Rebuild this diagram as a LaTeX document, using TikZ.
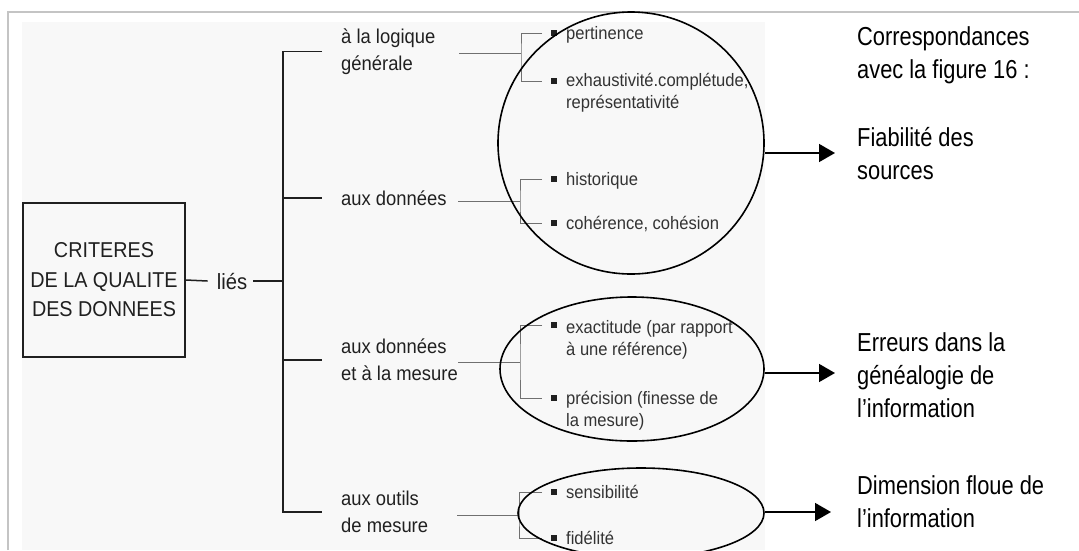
\documentclass[tikz,border=0pt]{standalone}
\usepackage{fontspec}
\setmainfont{Liberation Sans}
\newfontfamily\scanfont[FakeStretch=0.92]{Liberation Sans}
\newfontfamily\notefont[FakeStretch=0.84]{Liberation Sans}
\usepackage{tikz}
\usetikzlibrary{arrows.meta,positioning,shapes.geometric}
\definecolor{scanink}{HTML}{202020}
\definecolor{fadeink}{HTML}{333333}
\definecolor{frameline}{HTML}{C4C4C4}
\definecolor{scanbg}{HTML}{F8F8F8}

\begin{document}
\begin{tikzpicture}[x=1pt,y=-1pt,
  lab/.style={anchor=west,inner sep=0pt,align=left,text=scanink,font=\scanfont\fontsize{20}{27}\selectfont},
  item/.style={anchor=base west,inner sep=0pt,align=left,text=fadeink,font=\scanfont\fontsize{18}{22}\selectfont},
  note/.style={anchor=west,inner sep=0pt,align=left,font=\notefont\fontsize{26}{33}\selectfont},
  dot/.style={fill=scanink,rectangle,minimum size=5.5pt,inner sep=0pt},
  ring/.style={draw,ellipse,inner sep=0pt,line width=1.6pt},
  arr/.style={line width=1.6pt,-{Triangle[length=16pt,width=18pt]}},
  subln/.style={fadeink!70,line width=0.8pt},
  brk/.style={scanink,line width=1.8pt}]
  \useasboundingbox (0,0) rectangle (1079,550);
  \fill[scanbg] (22,22) rectangle (765,550);
  \draw[frameline,line width=2pt] (8,550) -- (8,12) -- (1079,12);

  \node[draw=scanink,line width=1.5pt,minimum width=162pt,minimum height=154pt,align=center,
    text=scanink,font=\scanfont\fontsize{21.5}{29.5}\selectfont] (crit) at (104,280)
    {CRITERES\\DE LA QUALITE\\DES DONNEES};
  \node[inner sep=0pt,text=scanink,font=\scanfont\fontsize{22}{26}\selectfont] (lies) at (232,281) {liés};
  \coordinate (spine) at (283,281);

  \node[lab] (lab1) at (341,51.5) {à la logique\\générale};
  \node[lab] (lab2) at (341,198) {aux données};
  \node[lab] (lab3) at (341,360) {aux données\\et à la mesure};
  \node[lab] (lab4) at (341,512) {aux outils\\de mesure};

  \draw[brk,line width=1.5pt] (crit.east) -- ([xshift=-9pt]lies.west);
  \draw[brk,line width=1.5pt] ([xshift=6pt]lies.east) -- (spine);
  \draw[brk] ([xshift=-19pt]lab1.west) -| (spine |- lab4.west) -- ([xshift=-19pt]lab4.west);
  \draw[brk] (spine |- lab2.west) -- ([xshift=-19pt]lab2.west);
  \draw[brk] (spine |- lab3.west) -- ([xshift=-19pt]lab3.west);

  \coordinate (j1) at (521,53);
  \coordinate (j2) at (520,201);
  \coordinate (j3) at (520,362);
  \coordinate (j4) at (519,515);
  \node[dot] (b1) at (554,33) {};
  \node[dot] (b2) at (554,81) {};
  \node[dot] (b3) at (554,179) {};
  \node[dot] (b4) at (554,223) {};
  \node[dot] (b5) at (554,325) {};
  \node[dot] (b6) at (554,398) {};
  \node[dot] (b7) at (554,492) {};
  \node[dot] (b8) at (554,538) {};
  \node[item] (it1) at (566,39) {pertinence};
  \node[item] (it2) at (566,108) {exhaustivité.complétude,\\représentativité};
  \node[item] (it3) at (566,185) {historique};
  \node[item] (it4) at (566,229) {cohérence, cohésion};
  \node[item] (it5) at (566,355) {exactitude (par rapport\\à une référence)};
  \node[item] (it6) at (566,426) {précision (finesse de\\la mesure)};
  \node[item] (it7) at (566,498) {sensibilité};
  \node[item] (it8) at (566,544) {fidélité};

  \draw[subln] ([xshift=-12pt]b1.center) -| (j1) |- ([xshift=-12pt]b2.center);
  \draw[subln] ([xshift=-12pt]b3.center) -| (j2) |- ([xshift=-12pt]b4.center);
  \draw[subln] ([xshift=-12pt]b5.center) -| (j3) |- ([xshift=-12pt]b6.center);
  \draw[subln] ([xshift=-12pt]b7.center) -| (j4) |- ([xshift=-12pt]b8.center);
  \draw[subln] (j1) -- ++(-62,0);
  \draw[subln] (j2) -- ++(-62,0);
  \draw[subln] (j3) -- ++(-62,0);
  \draw[subln] (j4) -- ++(-62,0);

  \node[ring,minimum width=266pt,minimum height=262pt] (ring1) at (631,143) {};
  \node[ring,minimum width=264pt,minimum height=144pt] (ring2) at (632,369) {};
  \node[ring,minimum width=246pt,minimum height=90pt] (ring3) at (641,513) {};

  \node[note] (corr) at (857,55) {Correspondances\\avec la figure 16 :};
  \node[note] (fiab) at (857,154) {Fiabilité des\\sources};
  \node[note] (err) at (857,375) {Erreurs dans la\\généalogie de\\l’information};
  \node[note] (flou) at (857,502) {Dimension floue de\\l’information};

  \coordinate (tip1) at (835,153);
  \coordinate (tip2) at (835,373);
  \coordinate (tip3) at (831,512);
  \draw[arr] (ring1.east |- tip1) -- (tip1);
  \draw[arr] (ring2.east |- tip2) -- (tip2);
  \draw[arr] (ring3.east |- tip3) -- (tip3);
\end{tikzpicture}
\end{document}
